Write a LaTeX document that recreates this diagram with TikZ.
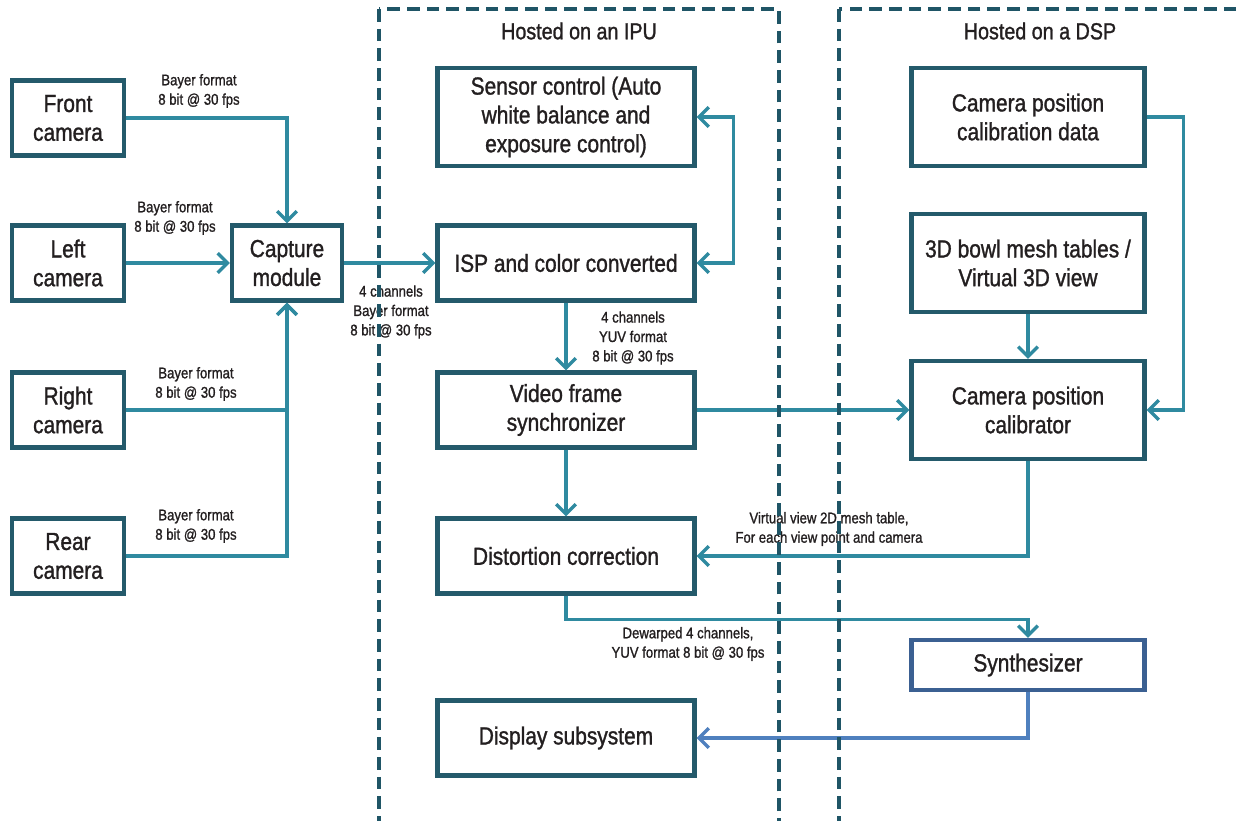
\documentclass[tikz,border=0pt]{standalone}
\usepackage{fontspec}
\setmainfont{Liberation Sans}[FakeStretch=0.85, FakeBold=1.2]
\usetikzlibrary{arrows.meta}
\definecolor{boxline}{HTML}{245A6B}
\definecolor{flow}{HTML}{2F8AA0}
\definecolor{hostline}{HTML}{1F5566}
\definecolor{synthline}{HTML}{3B6092}
\definecolor{outflow}{HTML}{4F80BE}
\definecolor{ink}{HTML}{231F20}

\begin{document}
\begin{tikzpicture}[x=0.025cm, y=-0.025cm,
		>={Straight Barb[length=7pt,width=14pt,line width=2.4pt]},
		block/.style={draw=boxline, line width=3pt, fill=white, text=ink, align=center,
			inner sep=0pt, font=\fontsize{17.5}{20.5}\selectfont},
		cam/.style={block, minimum width=2.8cm, minimum height=1.875cm},
		ipubox/.style={block, minimum width=6.425cm, minimum height=1.875cm},
		dspbox/.style={block, minimum width=5.825cm, minimum height=2.45cm},
		lbl/.style={text=ink, align=center, inner sep=0pt, font=\fontsize{11}{13.8}\selectfont},
		hostlbl/.style={text=ink, inner sep=0pt, font=\fontsize{16.5}{19}\selectfont},
		host/.style={draw=hostline, line width=2.8pt, dash pattern=on 9pt off 5pt},
		flowline/.style={draw=flow, line width=2.6pt, ->},
		twoway/.style={draw=flow, line width=2.6pt, <->},
		outline/.style={draw=outflow, line width=2.6pt, ->}
	]
	\useasboundingbox (0,0) rectangle (1238,821);

	% cameras and capture
	\node[cam] (front) at (68,118) {Front\\camera};
	\node[cam] (left) at (68,263) {Left\\camera};
	\node[cam] (right) at (68,410) {Right\\camera};
	\node[cam] (rear) at (68,556) {Rear\\camera};
	\node[block, minimum width=2.75cm, minimum height=1.875cm] (capture) at (287,263) {Capture\\module};

	% IPU side
	\node[ipubox, minimum height=2.45cm] (sensor) at (566,117) {Sensor control (Auto\\white balance and\\exposure control)};
	\node[ipubox] (isp) at (566,263) {ISP and color converted};
	\node[ipubox] (vsync) at (566,410) {Video frame\\synchronizer};
	\node[ipubox] (distort) at (566,556) {Distortion correction};
	\node[ipubox] (display) at (566,738) {Display subsystem};

	% DSP side
	\node[dspbox] (caldata) at (1028,117) {Camera position\\calibration data};
	\node[dspbox] (bowl) at (1028,263) {3D bowl mesh tables /\\Virtual 3D view};
	\node[dspbox] (calib) at (1028,410) {Camera position\\calibrator};
	\node[dspbox, draw=synthline, minimum height=1.25cm] (synth) at (1028,665) {Synthesizer};

	\draw[flowline] (front) -| (capture);
	\draw[flowline] (left) -- (capture);
	\draw[flowline] (right) -| (capture);
	\draw[flowline] (rear) -| (capture);
	\draw[flowline] (capture) -- (isp);
	\draw[twoway] (sensor.east) -- ++(37,0) |- (isp.east);
	\draw[flowline] (isp) -- (vsync);
	\draw[flowline] (vsync) -- (calib);
	\draw[flowline] (caldata.east) -- ++(37,0) |- (calib.east);
	\draw[flowline] (bowl) -- (calib);
	\draw[flowline] (vsync) -- (distort);
	\draw[flowline] (calib) |- (distort);
	\draw[flowline] (distort.south) -- ++(0,24) -| (synth.north);
	\draw[outline] (synth) |- (display);

	\node[lbl] (lfront) at (199,91) {Bayer format\\8 bit @ 30 fps};
	\node[lbl] (lleft) at (175,218) {Bayer format\\8 bit @ 30 fps};
	\node[lbl] (lright) at (196,384) {Bayer format\\8 bit @ 30 fps};
	\node[lbl] (lrear) at (196,526) {Bayer format\\8 bit @ 30 fps};
	\node[lbl] (lcapture) at (391,312) {4 channels\\Bayer format\\8 bit @ 30 fps};
	\node[lbl] (lisp) at (633,338) {4 channels\\YUV format\\8 bit @ 30 fps};
	\node[lbl] (lmesh) at (829,529) {Virtual view 2D mesh table,\\For each view point and camera};
	\node[lbl] (ldewarp) at (688,644) {Dewarped 4 channels,\\YUV format 8 bit @ 30 fps};

	% host regions
	\draw[host] (379,9) rectangle (779,840);
	\draw[host] (839,9) rectangle (1250,840);
	\node[hostlbl] (ipu) at (579,31) {Hosted on an IPU};
	\node[hostlbl] (dsp) at (1040,31) {Hosted on a DSP};
\end{tikzpicture}
\end{document}
